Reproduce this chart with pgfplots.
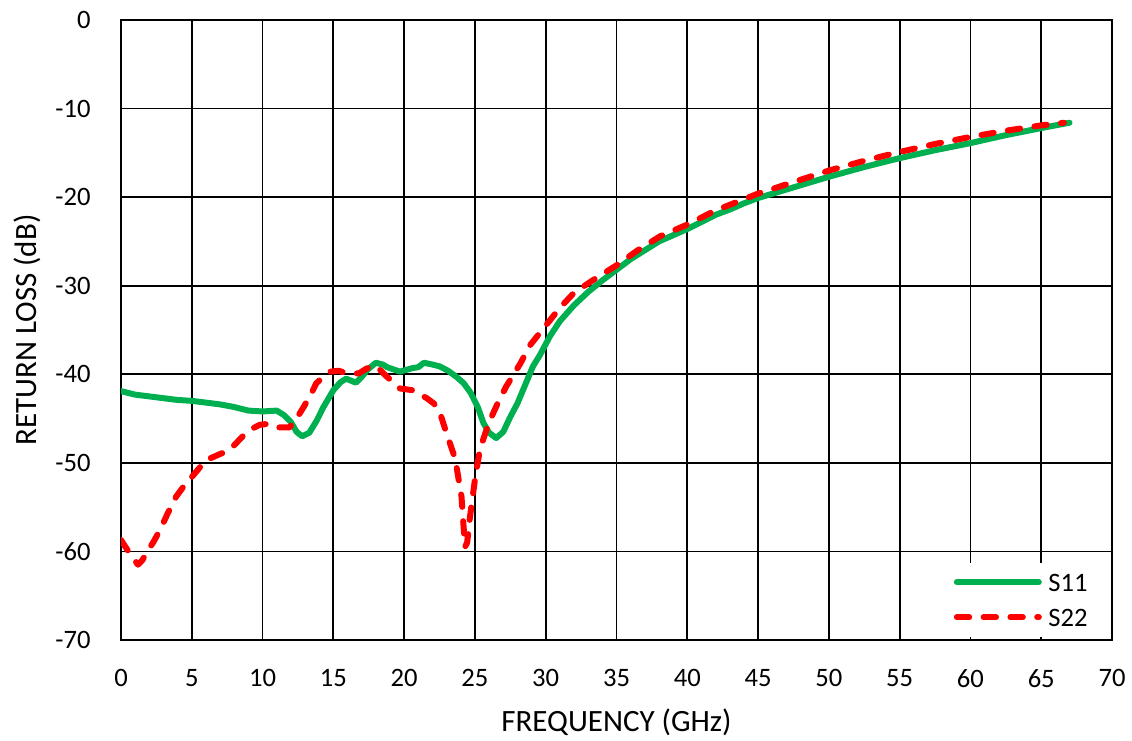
\documentclass[border=0pt]{standalone}
\usepackage{fontspec}
\setmainfont{Carlito}
\usepackage{pgfplots}
\pgfplotsset{compat=1.18}
\definecolor{xlgreen}{HTML}{00B050}
\definecolor{xlred}{HTML}{FF0000}
\begin{document}
\begin{tikzpicture}
\begin{axis}[
  scale only axis, width=495.5pt, height=310pt,
  xmin=0, xmax=70, ymin=-70, ymax=0,
  xtick={0,5,...,70}, ytick={-70,-60,...,0},
  xticklabels={0,5,10,15,20,25,30,35,40,45,50,55,60,65,70},
  yticklabels={-70,-60,-50,-40,-30,-20,-10,0},
  major tick length=0pt,
  grid=major, grid style={black, line width=0.9pt},
  axis line style={black, line width=1pt},
  tick label style={font=\fontsize{13.3}{16}\selectfont, inner sep=0pt},
  xticklabel style={anchor=north, yshift=-14.5pt},
  yticklabel style={anchor=east, xshift=-15pt},
  label style={font=\fontsize{15.5}{18}\selectfont},
  xlabel={FREQUENCY (GHz)}, ylabel={RETURN LOSS (dB)},
  xlabel style={at={([yshift=-46pt]rel axis cs:0.5,0)}, anchor=base},
  ylabel style={at={([xshift=-42pt]rel axis cs:0,0.5)}, anchor=base},
  legend style={at={(1,0)}, anchor=south east, xshift=-2pt, yshift=1.5pt,
    fill=white, draw=none, inner xsep=10pt, inner ysep=5.2pt,
    font=\fontsize{13.3}{16}\selectfont, row sep=8.5pt, column sep=3.3pt,
    nodes={inner sep=0pt, text height=9pt, text depth=0pt}},
  legend cell align=left,
  legend image code/.code={\draw[#1] (0pt,0pt) -- (41pt,0pt);},
]
\coordinate (ll) at (rel axis cs:0,0);
\coordinate (ur) at (rel axis cs:1,1);
\addplot[xlgreen, line width=3pt, line join=round, line cap=round] coordinates {
(0,-41.9) (1,-42.3) (2,-42.5) (3,-42.7) (4,-42.9) (5,-43.0) (6,-43.2) (7,-43.4)
(8,-43.7) (9,-44.1) (10,-44.2) (11,-44.1) (11.5,-44.6) (12,-45.4) (12.4,-46.5)
(12.8,-47.0) (13.3,-46.6) (13.8,-45.3) (14.3,-43.7) (15,-41.8) (15.5,-40.9)
(15.9,-40.5) (16.6,-40.95) (17.0,-40.3) (17.4,-39.5) (18.0,-38.7) (18.5,-38.9)
(18.8,-39.2) (19.7,-39.7) (20.6,-39.3) (21.0,-39.2) (21.4,-38.7) (22.0,-38.9)
(22.5,-39.1) (23.1,-39.6) (23.7,-40.3) (24.2,-41.0) (24.7,-42.1) (25.2,-43.7)
(25.6,-45.5) (26.0,-46.6) (26.5,-47.2) (27.0,-46.5) (27.5,-44.8) (28.0,-43.3)
(28.6,-41.0) (29.1,-39.1) (29.6,-37.8) (30.3,-35.7) (31,-34.0) (32,-32.2)
(33,-30.7) (34,-29.4) (35,-28.2) (36,-27.0) (37,-26.0) (38,-25.0) (39,-24.3)
(40,-23.6) (41,-22.8) (42,-22.0) (43,-21.4) (44,-20.7) (45,-20.1) (47.5,-18.9)
(50,-17.7) (52.5,-16.6) (55,-15.6) (57.5,-14.7) (60,-13.9) (62.5,-13.0)
(65,-12.2) (67,-11.6)
};
\addlegendentry{S11}
\addplot[xlred, line width=3pt, line join=round, line cap=round,
  dash pattern=on 6.2pt off 7.2pt] coordinates {
(0,-58.7) (0.6,-60.2) (1.2,-61.5) (1.5,-61.0) (1.8,-60.2) (2.3,-58.9) (2.75,-57.6)
(3.3,-55.7) (3.9,-53.8) (4.5,-52.5) (5,-51.6) (6,-49.7) (7,-49.0) (7.5,-48.7)
(8,-48.0) (8.6,-47.0) (9.2,-46.2) (9.8,-45.7) (10.4,-45.6) (11,-46.0) (11.9,-46.0)
(12.4,-45.0) (12.9,-43.7) (13.4,-42.3) (13.8,-41.0) (14.3,-40.3) (14.8,-39.7)
(15.4,-39.6) (15.9,-39.9) (16.8,-39.9) (17.3,-39.4) (17.8,-39.0) (18.3,-39.5)
(18.8,-40.3) (19.3,-41.0) (19.7,-41.6) (20.6,-41.8) (21.6,-42.7) (22.1,-43.3)
(22.5,-44.2) (23.0,-46.7) (23.6,-49.5) (24.05,-53.8) (24.3,-59.5) (24.45,-59.0)
(24.65,-56.1) (25.0,-51.9) (25.35,-48.5) (25.7,-46.8) (26.06,-45.2) (26.6,-43.3)
(27.2,-41.4) (28.2,-38.8) (28.9,-36.7) (30.3,-33.9) (31,-32.5) (32,-30.8)
(33.5,-29.2) (35,-27.7) (36.5,-26.0) (38.1,-24.4) (40,-23.1) (42,-21.5)
(45,-19.6) (47.5,-18.3) (50,-17.0) (52.5,-15.9) (55,-14.9) (57.5,-14.0)
(60,-13.2) (62.5,-12.5) (65,-11.9) (66.6,-11.6)
};
\addlegendentry{S22}
\end{axis}
\pgfresetboundingbox
\path ([shift={(-60.5pt,-50.5pt)}]ll) rectangle ([shift={(10pt,10pt)}]ur);
\end{tikzpicture}
\end{document}
